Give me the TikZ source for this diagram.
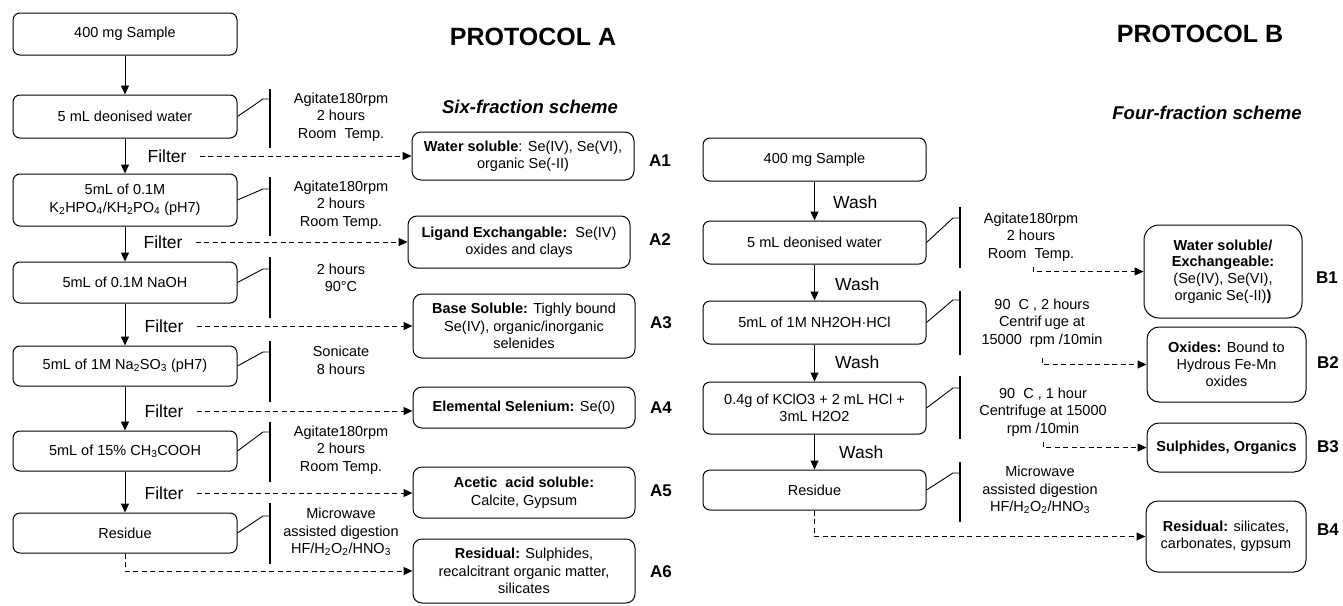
\documentclass[tikz,border=0pt]{standalone}
\usepackage{fontspec}
\setmainfont{Liberation Sans}
\usetikzlibrary{arrows.meta}
\newcommand{\sbs}[1]{\textsubscript{#1}}
\newcommand{\NoteBar}[6]{% #1 box, #2 bar x, #3 top y, #4 bottom y, #5 elbow y, #6 name
  \coordinate (#6t) at (#2,#3);
  \coordinate (#6b) at (#2,#4);
  \coordinate (#6e) at (#2-7,#5);
  \draw[barline] (#6t) -- (#6b);
  \draw[thinline] (#1.east) -- (#6e) -- (#6e -| #6t);
}
\begin{document}
\begin{tikzpicture}[x=1pt,y=-1pt,
  txt/.style={font=\fontsize{14.5}{17.5}\selectfont, align=center, inner sep=0pt},
  stepbox/.style={draw, line width=1pt, rounded corners=7pt, minimum width=224pt,
    minimum height=#1, align=center, inner sep=2pt, font=\fontsize{14.5}{17.5}\selectfont},
  fracbox/.style={draw, line width=1pt, rounded corners=9pt, minimum width=222pt,
    minimum height=#1, align=center, inner sep=2pt, font=\fontsize{14.5}{17.5}\selectfont},
  bbox/.style={draw, line width=1pt, rounded corners=12pt, minimum width=159pt,
    minimum height=#1, align=center, inner sep=2pt, font=\fontsize{14.5}{16.8}\selectfont},
  lab/.style={font=\fontsize{17}{17}\selectfont\bfseries, inner sep=0pt},
  filt/.style={font=\fontsize{17.5}{18}\selectfont, inner xsep=13pt, inner ysep=0pt},
  wash/.style={font=\fontsize{17.5}{18}\selectfont, inner sep=0pt, anchor=west},
  head/.style={font=\fontsize{25}{25}\selectfont\bfseries, inner sep=0pt},
  sub/.style={font=\fontsize{18.5}{18.5}\selectfont\bfseries\itshape, inner sep=0pt},
  flow/.style={line width=1pt, -{Triangle[length=9pt,width=8pt]}},
  dflow/.style={line width=1pt, dash pattern=on 5pt off 3.5pt, -{Triangle[length=9pt,width=8pt]}},
  barline/.style={line width=2.2pt},
  thinline/.style={line width=0.9pt}
]
\useasboundingbox (0,0) rectangle (1343,605);

% ---------------- PROTOCOL A ----------------
\node[head] (hA) at (533,37) {PROTOCOL A};
\node[sub] (sA) at (530,107) {Six-fraction scheme};

\node[stepbox=42pt] (a0) at (125,34) {400 mg Sample};
\node[stepbox=43pt] (a1) at (125,116.5) {5 mL deonised water};
\node[stepbox=52pt] (a2) at (125,200) {5mL of 0.1M\\K\sbs{2}HPO\sbs{4}/KH\sbs{2}PO\sbs{4} (pH7)};
\node[stepbox=41pt] (a3) at (125,282.5) {5mL of 0.1M NaOH};
\node[stepbox=40pt] (a4) at (125,366) {5mL of 1M Na\sbs{2}SO\sbs{3} (pH7)};
\node[stepbox=40pt] (a5) at (125,451) {5mL of 15\% CH\sbs{3}COOH};
\node[stepbox=40pt] (a6) at (125,533) {Residue};

\draw[flow] (a0) -- (a1);
\draw[flow] (a1) -- (a2);
\draw[flow] (a2) -- (a3);
\draw[flow] (a3) -- (a4);
\draw[flow] (a4) -- (a5);
\draw[flow] (a5) -- (a6);

\NoteBar{a1}{270}{89}{148}{99}{na1}
\NoteBar{a2}{270}{177}{236}{189}{na2}
\NoteBar{a3}{270}{257}{318}{269}{na3}
\NoteBar{a4}{270}{341}{402}{352}{na4}
\NoteBar{a5}{270}{422}{482}{432}{na5}
\NoteBar{a6}{270}{503}{564}{516}{na6}

\node[txt] (ta1) at (341,117) {Agitate180rpm\\2 hours\\Room\ \ Temp.};
\node[txt] (ta2) at (341,205) {Agitate180rpm\\2 hours\\Room Temp.};
\node[txt] (ta3) at (341,278) {2 hours\\90°C};
\node[txt] (ta4) at (341,360.5) {Sonicate\\8 hours};
\node[txt] (ta5) at (341,450) {Agitate180rpm\\2 hours\\Room Temp.};
\node[txt] (ta6) at (341,532) {Microwave\\assisted digestion\\HF/H\sbs{2}O\sbs{2}/HNO\sbs{3}};

\node[fracbox=48pt] (A1) at (523,156) {\textbf{Water soluble}: Se(IV), Se(VI),\\organic Se(-II)};
\node[fracbox=52pt] (A2) at (519,242) {\textbf{Ligand Exchangable:}\ \ Se(IV)\\oxides and clays};
\node[fracbox=64pt] (A3) at (524,326) {\textbf{Base Soluble:} Tighly bound\\Se(IV), organic/inorganic\\selenides};
\node[fracbox=41pt] (A4) at (524,407.5) {\textbf{Elemental Selenium:} Se(0)};
\node[fracbox=51pt] (A5) at (524,492.5) {\textbf{Acetic\ \ acid soluble:}\\Calcite, Gypsum};
\node[fracbox=64pt] (A6) at (524,571) {\textbf{Residual:} Sulphides,\\recalcitrant organic matter,\\silicates};

\node[lab] (lA1) at (660,161) {A1};
\node[lab] (lA2) at (660,240) {A2};
\node[lab] (lA3) at (661,323) {A3};
\node[lab] (lA4) at (661,408) {A4};
\node[lab] (lA5) at (661,491) {A5};
\node[lab] (lA6) at (661,572) {A6};

\node[filt] (f1) at (167,156) {Filter};
\node[filt] (f2) at (163,242) {Filter};
\node[filt] (f3) at (164,326) {Filter};
\node[filt] (f4) at (164,411) {Filter};
\node[filt] (f5) at (164,493) {Filter};

\draw[dflow] (f1.east) -- (f1.east -| A1.west);
\draw[dflow] (f2.east) -- (f2.east -| A2.west);
\draw[dflow] (f3.east) -- (f3.east -| A3.west);
\draw[dflow] (f4.east) -- (f4.east -| A4.west);
\draw[dflow] (f5.east) -- (f5.east -| A5.west);
\draw[dflow] (a6.south) |- (A6.west);

% ---------------- PROTOCOL B ----------------
\node[head] (hB) at (1200,34) {PROTOCOL B};
\node[sub] (sB) at (1207,113) {Four-fraction scheme};

\node[stepbox=43pt, minimum width=223pt] (b0) at (814.5,159.5) {400 mg Sample};
\node[stepbox=43pt, minimum width=223pt] (b1) at (814.5,242.5) {5 mL deonised water};
\node[stepbox=43pt, minimum width=223pt] (b2) at (814.5,322.5) {5mL of 1M NH2OH·HCl};
\node[stepbox=52pt, minimum width=223pt] (b3) at (814.5,408) {0.4g of KClO3 + 2 mL HCl +\\3mL H2O2};
\node[stepbox=40pt, minimum width=223pt] (b4) at (814.5,490) {Residue};

\draw[flow] (b0) -- (b1);
\draw[flow] (b1) -- (b2);
\draw[flow] (b2) -- (b3);
\draw[flow] (b3) -- (b4);

\node[wash] (w1) at (833,202) {Wash};
\node[wash] (w2) at (835,284) {Wash};
\node[wash] (w3) at (835,362) {Wash};
\node[wash] (w4) at (839,452) {Wash};

\NoteBar{b1}{960}{207}{268}{218}{nb1}
\NoteBar{b2}{960}{291}{355}{300}{nb2}
\NoteBar{b3}{960}{376}{439}{388}{nb3}
\NoteBar{b4}{960}{462}{522}{473}{nb4}

\node[txt] (tb1) at (1031,237) {Agitate180rpm\\2 hours\\Room\ \ Temp.};
\node[txt] (tb2) at (1042,323) {90\ \ C , 2 hours\\Centrif\kern3pt uge at\\15000\ \ rpm /10min};
\node[txt] (tb3) at (1043,412) {90\ \ C , 1 hour\\Centrifuge at 15000\\rpm /10min};
\node[txt] (tb4) at (1040,490) {Microwave\\assisted digestion\\HF/H\sbs{2}O\sbs{2}/HNO\sbs{3}};

\node[bbox=93pt, minimum width=158pt, rounded corners=15pt] (B1) at (1223,271.5) {\textbf{Water soluble/}\\\textbf{Exchangeable:}\\(Se(IV), Se(VI),\\organic Se(-II)\textbf{)}};
\node[bbox=75pt] (B2) at (1226.5,364.5) {\textbf{Oxides:} Bound to\\Hydrous Fe-Mn\\oxides};
\node[bbox=49pt] (B3) at (1226.5,447.5) {\textbf{Sulphides, Organics}};
\node[bbox=71pt, minimum width=160pt] (B4) at (1226,536.5) {\textbf{Residual:} silicates,\\carbonates, gypsum};

\node[lab] (lB1) at (1327,278) {B1};
\node[lab] (lB2) at (1328,363) {B2};
\node[lab] (lB3) at (1328,447) {B3};
\node[lab] (lB4) at (1328,530) {B4};

\coordinate (k1) at (1033,267);
\coordinate (k2) at (1042,358);
\coordinate (k3) at (1043,442);
\draw[dflow] (k1) |- (B1.west);
\draw[dflow] (k2) |- (B2.west);
\draw[dflow] (k3) |- (B3.west);
\draw[dflow] (b4.south) |- (B4.west);
\end{tikzpicture}
\end{document}
